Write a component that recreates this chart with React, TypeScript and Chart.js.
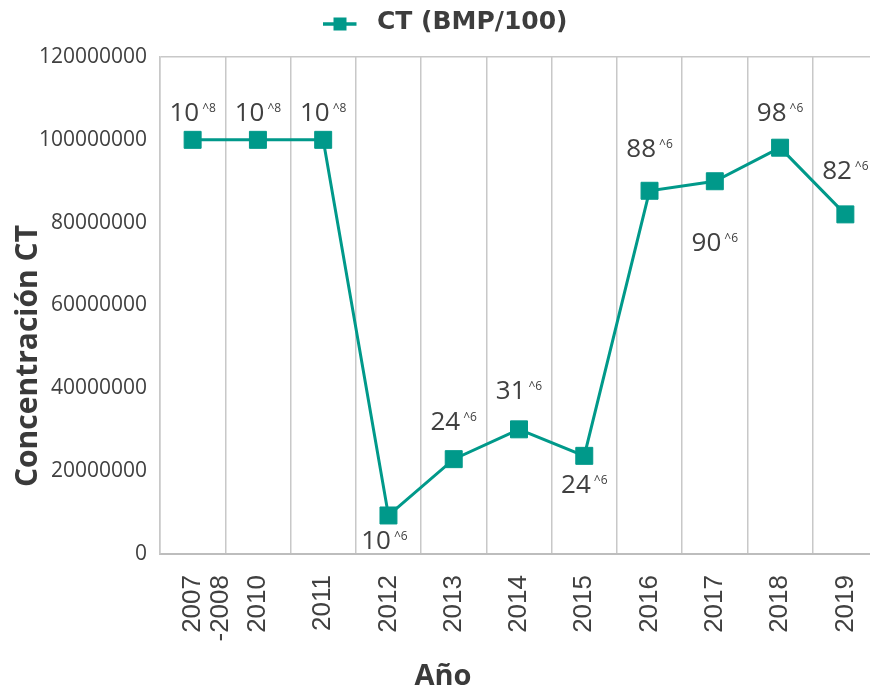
import { useEffect, useRef } from 'react';
import { Chart, registerables } from 'chart.js';

Chart.register(...registerables);

const categories: (string | string[])[] = [['2007', '-2008'], '2010', '2011', '2012', '2013', '2014', '2015', '2016', '2017', '2018', '2019'];
const ctValues = [100000000, 100000000, 100000000, 9300000, 22900000, 30100000, 23700000, 87700000, 90000000, 98100000, 82000000];
const labelBase = ['10', '10', '10', '10', '24', '31', '24', '88', '90', '98', '82'];
const labelExp = ['8', '8', '8', '6', '6', '6', '6', '6', '6', '6', '6'];
const labelOffsetY = [-28, -28, -28, 24, -38, -40, 28, -43, 60, -36, -45];
const labelOffsetX = [0, 0, 0, -4, 0, 0, 0, 0, 0, 0, 0];
const yTicks = [0, 20000000, 40000000, 60000000, 80000000, 100000000, 120000000];
const seriesName = 'CT (BMP/100)';
const xTitle = 'Año';
const yTitle = 'Concentración CT';

const TEAL = '#00998a';
const TEXT = '#404040';
const GRID = '#c8c8c8';

function makeLegendSymbol(): HTMLCanvasElement {
  const c = document.createElement('canvas');
  c.width = 41;
  c.height = 30;
  const g = c.getContext('2d')!;
  g.strokeStyle = TEAL;
  g.lineWidth = 3.5;
  g.beginPath();
  g.moveTo(0, 17);
  g.lineTo(33, 17);
  g.stroke();
  g.fillStyle = TEAL;
  g.fillRect(16.5 - 6.5, 17 - 6.5, 13, 13);
  return c;
}

const labelsPlugin = {
  id: 'ctLabels',
  afterDatasetsDraw(chart: any) {
    const ctx: CanvasRenderingContext2D = chart.ctx;
    const meta = chart.getDatasetMeta(0);
    ctx.save();
    ctx.fillStyle = TEXT;
    ctx.textAlign = 'left';
    ctx.textBaseline = 'alphabetic';
    const mainSize = 26;
    const supSize = 12;
    meta.data.forEach((pt: any, i: number) => {
      const base = labelBase[i];
      const exp = '^' + labelExp[i];
      ctx.font = `${mainSize}px "Open Sans"`;
      const wb = ctx.measureText(base).width;
      ctx.font = `${supSize}px "Open Sans"`;
      const we = ctx.measureText(exp).width;
      const gap = 3;
      const total = wb + gap + we;
      const x0 = pt.x + labelOffsetX[i] - total / 2;
      const cy = pt.y + labelOffsetY[i];
      const baseline = cy + 0.357 * mainSize;
      const top = baseline - 0.714 * mainSize;
      ctx.font = `${mainSize}px "Open Sans"`;
      ctx.fillText(base, x0, baseline);
      ctx.font = `${supSize}px "Open Sans"`;
      ctx.fillText(exp, x0 + wb + gap, top + 0.714 * supSize + 1);
    });
    ctx.fillStyle = '#3a3a3a';
    ctx.textAlign = 'center';
    ctx.textBaseline = 'alphabetic';
    ctx.font = 'bold 29px "Open Sans"';
    ctx.fillText(xTitle, 443, 685);
    ctx.translate(37, 356);
    ctx.rotate(-Math.PI / 2);
    ctx.font = 'bold 30px "Open Sans"';
    ctx.fillText(yTitle, 0, 0);
    ctx.restore();
  },
};

export default function App() {
  const ref = useRef<HTMLCanvasElement>(null);
  useEffect(() => {
    const legendSymbol = makeLegendSymbol();
    const chart = new Chart(ref.current!, {
      type: 'line',
      data: {
        labels: categories,
        datasets: [
          {
            label: seriesName,
            data: ctValues,
            borderColor: TEAL,
            backgroundColor: TEAL,
            borderWidth: 3,
            pointStyle: 'rect',
            pointRadius: 12,
            pointHoverRadius: 12,
            pointBorderWidth: 1,
            pointBackgroundColor: TEAL,
            pointBorderColor: TEAL,
            tension: 0,
            clip: false as any,
          },
        ],
      },
      options: {
        responsive: false,
        animation: false,
        devicePixelRatio: 1,
        layout: { autoPadding: false, padding: { left: 13, right: 2, top: 0, bottom: 0 } },
        plugins: {
          tooltip: { enabled: false },
          legend: {
            position: 'top',
            weight: 1000,
            labels: {
              usePointStyle: true,
              pointStyle: legendSymbol as any,
              pointStyleWidth: 41,
              padding: 9.5,
              color: '#3d3d3d',
              font: { family: 'DejaVu Sans', size: 25, weight: 'bold' },
            },
          },
          title: {
            display: true,
            text: '',
            position: 'top',
            weight: 500,
            padding: 0,
            font: { size: 10, lineHeight: 1.25 },
          },
        },
        scales: {
          x: {
            offset: true,
            afterFit: (s: any) => {
              s.height = 139;
              s.paddingLeft = 0;
              s.paddingRight = 0;
            },
            ticks: {
              autoSkip: false,
              minRotation: 90,
              maxRotation: 90,
              padding: 21,
              color: TEXT,
              font: { family: '"Liberation Sans", Arial, sans-serif', size: 26, lineHeight: 1.08 },
            },
            grid: { offset: true, drawTicks: false, color: GRID, lineWidth: 1.5 },
            border: { color: '#bdbdbd', width: 2 },
          },
          y: {
            min: 0,
            max: 120000000,
            afterBuildTicks: (s: any) => {
              s.ticks = yTicks.map((v) => ({ value: v }));
            },
            afterFit: (s: any) => {
              s.width = 147;
            },
            ticks: {
              padding: 13,
              color: TEXT,
              font: { family: '"Open Sans"', size: 21 },
              callback: (v: any) => String(v),
            },
            grid: {
              drawTicks: false,
              lineWidth: 1.5,
              color: (c: any) => (c.tick && c.tick.value === 120000000 ? GRID : 'rgba(0,0,0,0)'),
            },
            border: { display: true, color: GRID, width: 1.5 },
          },
        },
      },
      plugins: [labelsPlugin],
    });
    return () => chart.destroy();
  }, []);
  return (
    <div style={{ position: 'fixed', left: 0, top: 0, width: 870, height: 693, overflow: 'hidden', background: '#fff' }}>
      <canvas ref={ref} width={880} height={693} style={{ display: 'block', width: 880, height: 693 }} />
    </div>
  );
}
